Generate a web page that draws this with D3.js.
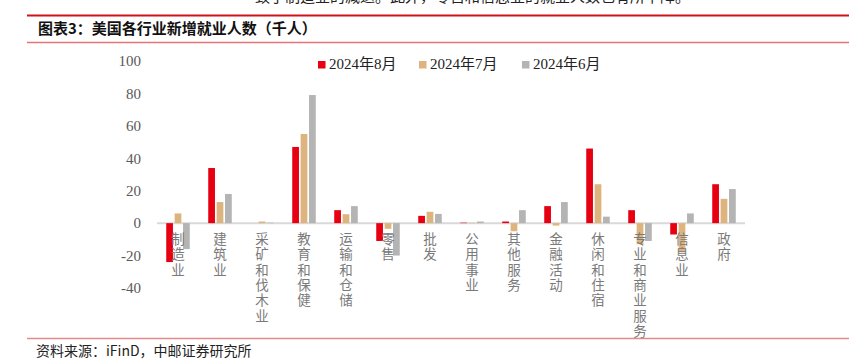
<!DOCTYPE html>
<html lang="zh">
<head>
<meta charset="UTF-8">
<title>美国各行业新增就业人数</title>
<script src="https://d3js.org/d3.v7.min.js"></script>
<style>
    body { margin: 0; background: #fff; }
    svg { display: block; }
</style>
</head>
<body>
<div id="chart"></div>
<script>
// data (thousands of people)
const categories = ["制造业", "建筑业", "采矿和伐木业", "教育和保健", "运输和仓储", "零售", "批发",
    "公用事业", "其他服务", "金融活动", "休闲和住宿", "专业和商业服务", "信息业", "政府"];
const seriesNames = ["2024年8月", "2024年7月", "2024年6月"];
const aug = [-24, 34, 0, 47, 8, -11, 4.5, 0.3, 1, 10.5, 46, 8, -7, 24];
const jul = [6, 13, 1, 55, 5.5, -3.5, 7, 0.2, -5, -1.5, 24, -13, -18, 15];
const jun = [-16, 18, 0.3, 79, 10.5, -20, 5.7, 1, 8, 13, 4, -11, 6, 21];
const yTicks = [-40, -20, 0, 20, 40, 60, 80, 100];

const colors = ["#e60012", "#deb47e", "#b4b4b4"];
const W = 868, H = 361;

const svg = d3.select("#chart").append("svg")
    .attr("width", W).attr("height", H);

// header / footer rules
svg.append("line").attr("x1", 27).attr("x2", 849).attr("y1", 15.5).attr("y2", 15.5)
    .attr("stroke", "#d0121b").attr("stroke-width", 2.2);
svg.append("line").attr("x1", 27).attr("x2", 849).attr("y1", 42.5).attr("y2", 42.5)
    .attr("stroke", "#e57373").attr("stroke-width", 1.5);
svg.append("line").attr("x1", 27).attr("x2", 849).attr("y1", 338.5).attr("y2", 338.5)
    .attr("stroke", "#e58a8a").attr("stroke-width", 1.6);

// body text above the header, cut off by the top edge as in the reference
svg.append("text").attr("x", 255).attr("y", 2)
    .attr("font-family", "Noto Sans CJK SC").attr("font-size", 15).attr("fill", "#222")
    .text("致了制造业的减退。此外，零售和信息业的就业人数也有所下降。");

svg.append("text").attr("x", 38).attr("y", 33.5)
    .attr("font-family", "Noto Sans CJK SC").attr("font-weight", "bold")
    .attr("font-size", 15).attr("fill", "#111")
    .text("图表3：美国各行业新增就业人数（千人）");

svg.append("text").attr("x", 36).attr("y", 356)
    .attr("font-family", "Noto Sans CJK SC").attr("font-size", 14).attr("fill", "#222")
    .text("资料来源：iFinD，中邮证券研究所");

// scales
const x0 = d3.scaleBand().domain(categories).range([157, 745])
    .paddingInner(0.36).paddingOuter(0.18);
const x1 = d3.scaleBand().domain(seriesNames).range([0, x0.bandwidth()]).padding(0.2);
const y = d3.scaleLinear().domain([-40, 100]).range([288, 61]);

// y axis labels (no axis line)
const yAxis = svg.append("g")
    .attr("transform", "translate(149,0)")
    .call(d3.axisLeft(y).tickValues(yTicks).tickSize(0).tickPadding(8)
        .tickFormat(d => String(d)));
yAxis.select(".domain").remove();
yAxis.selectAll("text")
    .attr("font-family", "Liberation Serif").attr("font-size", 15).attr("fill", "#595959");

// zero line
svg.append("line").attr("x1", 157).attr("x2", 745)
    .attr("y1", y(0)).attr("y2", y(0))
    .attr("stroke", "#d9d9d9").attr("stroke-width", 2);

// bars
const table = categories.map((c, i) => ({ cat: c, vals: [aug[i], jul[i], jun[i]] }));
const groups = svg.append("g").selectAll("g").data(table).join("g")
    .attr("transform", d => `translate(${x0(d.cat)},0)`);
groups.selectAll("rect")
    .data(d => d.vals.map((v, k) => ({ name: seriesNames[k], v: v, k: k })))
    .join("rect")
    .attr("x", d => x1(d.name))
    .attr("width", x1.bandwidth())
    .attr("y", d => y(Math.max(0, d.v)))
    .attr("height", d => Math.abs(y(d.v) - y(0)))
    .attr("fill", d => colors[d.k]);

// vertical category labels, one character per line
const chars = [];
categories.forEach(c => {
    Array.from(c).forEach((ch, i) => chars.push({ cat: c, ch: ch, i: i }));
});
svg.append("g").selectAll("text").data(chars).join("text")
    .attr("font-family", "Liberation Serif, Noto Sans CJK SC").attr("font-size", 13.5)
    .attr("fill", "#7a7a7a").attr("text-anchor", "middle")
    .attr("x", d => x0(d.cat) + x0.bandwidth() / 2)
    .attr("y", d => 244 + d.i * 15.3)
    .text(d => d.ch);

// legend
const legendX = [318, 419, 522];
const legend = svg.append("g").selectAll("g").data(seriesNames).join("g")
    .attr("transform", (d, i) => `translate(${legendX[i]},61)`);
legend.append("rect").attr("width", 7.5).attr("height", 7.5).attr("fill", (d, i) => colors[i]);
legend.append("text").attr("x", 11).attr("y", 8)
    .attr("font-family", "Liberation Serif, Noto Sans CJK SC").attr("font-size", 15)
    .attr("fill", "#222").text(d => d);
</script>
</body>
</html>
